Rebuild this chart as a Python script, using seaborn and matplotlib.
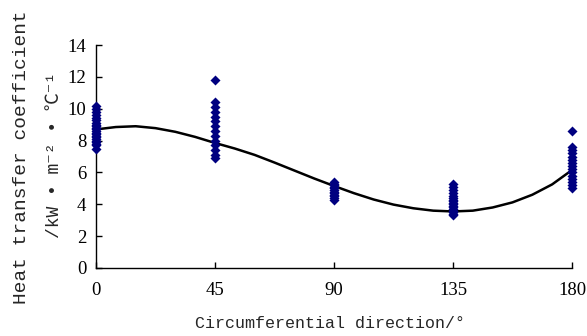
import pandas as pd
import matplotlib
matplotlib.use("Agg")
import matplotlib.pyplot as plt
import seaborn as sns

# measured points (angle, heat transfer coefficient)
h_0 = [10.2, 10.0, 9.8, 9.6, 9.4, 9.3, 9.1, 9.0, 8.9, 8.8, 8.7, 8.6, 8.5,
       8.4, 8.3, 8.2, 8.1, 8.0, 7.9, 7.8, 7.7, 7.5]
h_45 = [11.8, 10.4, 10.1, 9.8, 9.5, 9.2, 8.9, 8.6, 8.3, 8.0, 7.7, 7.4, 7.1, 6.9]
h_90 = [5.4, 5.3, 5.2, 5.1, 5.0, 4.9, 4.8, 4.7, 4.6, 4.5, 4.4, 4.3]
h_135 = [5.3, 5.1, 4.9, 4.7, 4.5, 4.4, 4.3, 4.2, 4.1, 4.0, 3.9, 3.8, 3.7,
         3.6, 3.5, 3.4, 3.3]
h_180 = [8.6, 7.6, 7.4, 7.2, 7.0, 6.8, 6.6, 6.4, 6.2, 6.0, 5.8, 5.6, 5.4,
         5.2, 5.0]

# trend curve
curve_x = [0, 7.5, 15, 22.5, 30, 37.5, 45, 52.5, 60, 67.5, 75, 82.5, 90,
           97.5, 105, 112.5, 120, 127.5, 135, 142.5, 150, 157.5, 165, 172.5, 180]
curve_y = [8.70, 8.85, 8.90, 8.78, 8.55, 8.23, 7.85, 7.50, 7.10, 6.62, 6.12,
           5.62, 5.15, 4.70, 4.30, 3.98, 3.75, 3.60, 3.55, 3.60, 3.80, 4.12,
           4.60, 5.25, 6.15]

xticks = [0, 45, 90, 135, 180]
yticks = [0, 2, 4, 6, 8, 10, 12, 14]

pts = pd.concat([
    pd.DataFrame({"angle": a, "h": v})
    for a, v in zip(xticks, [h_0, h_45, h_90, h_135, h_180])
])
curve = pd.DataFrame({"angle": curve_x, "h": curve_y})

sns.set_style("ticks")
plt.rcParams["font.family"] = ["Liberation Serif", "DejaVu Sans"]

fig = plt.figure(figsize=(5.87, 3.36), dpi=100)
ax = fig.add_axes([96 / 587, 68 / 336, 476 / 587, 223 / 336])

sns.lineplot(data=curve, x="angle", y="h", color="black", linewidth=1.8, ax=ax)
sns.scatterplot(data=pts, x="angle", y="h", marker="D", s=26, color="#000080",
                edgecolor="#000080", linewidth=0, zorder=3, clip_on=False, ax=ax)

ax.set_xlim(0, 180)
ax.set_ylim(0, 14)
ax.set_xticks(xticks)
ax.set_yticks(yticks)
ax.tick_params(direction="in", length=4, width=1, labelsize=13.5, colors="black")
ax.tick_params(axis="x", pad=10)
ax.tick_params(axis="y", pad=7)
for s in ["top", "right"]:
    ax.spines[s].set_visible(False)
for s in ["left", "bottom"]:
    ax.spines[s].set_linewidth(1)
    ax.spines[s].set_color("black")
ax.set_xlabel("")
ax.set_ylabel("")

mono = ["Liberation Mono", "Noto Sans CJK SC", "DejaVu Sans"]
fig.text(330 / 587, 1 - 323 / 336, "Circumferential direction/°", ha="center",
         va="center", fontsize=12, family=mono)
fig.text(22 / 587, 1 - 157 / 336, "Heat transfer coefficient", ha="center",
         va="center", rotation=90, fontsize=14, family=mono)
fig.text(55 / 587, 1 - 155 / 336, "/kW • m⁻² • ℃⁻¹", ha="center",
         va="center", rotation=90, fontsize=13, family=mono)

fig.savefig("out.png", dpi=100)
